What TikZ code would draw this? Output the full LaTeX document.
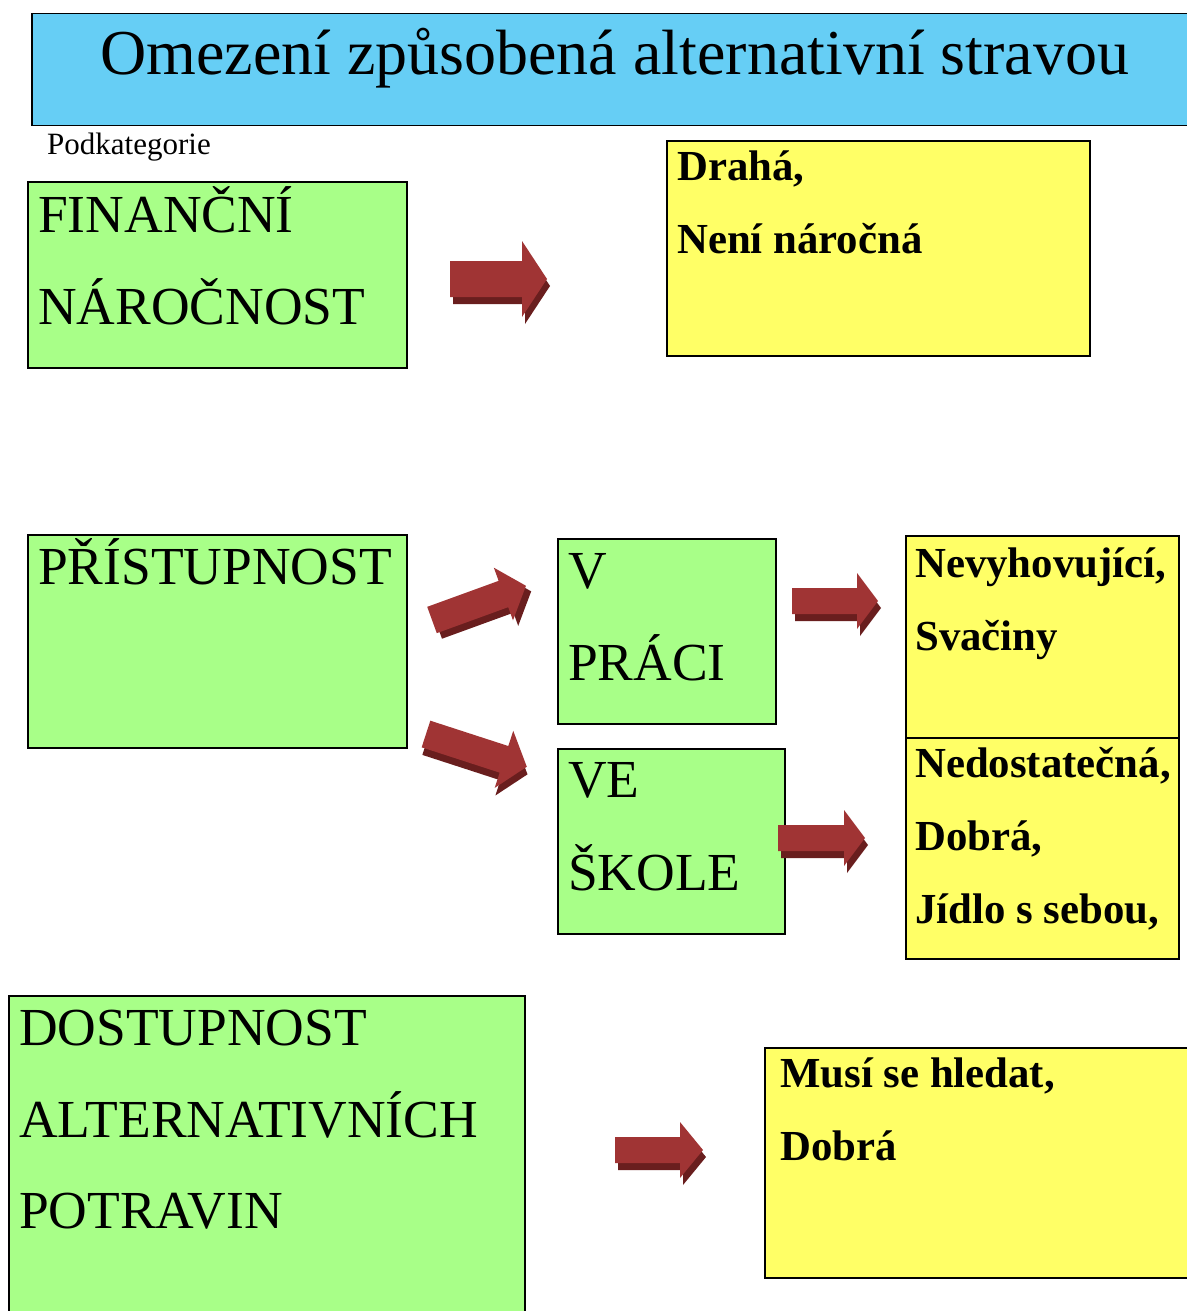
\documentclass[tikz,border=0pt]{standalone}
\usepackage{fontspec}
\setmainfont{Liberation Serif}
\definecolor{titleblue}{RGB}{102,206,245}
\definecolor{boxgreen}{RGB}{168,255,136}
\definecolor{boxyellow}{RGB}{255,255,102}
\definecolor{arrowdark}{RGB}{160,52,52}
\definecolor{arrowlight}{RGB}{205,90,90}
\definecolor{arrowshadowc}{RGB}{105,30,30}
\newcommand\blockarrow[7]{%
  \begin{scope}[shift={(#1,#2)},rotate=#3]
    \fill[arrowshadowc] (3,-#5+7) -- (#4-#7+3,-#5+7) -- (#4-#7+3,-#6+7) -- (#4+3,7) -- (#4-#7+3,#6+7) -- (#4-#7+3,#5+7) -- (3,#5+7) -- cycle;
    \shade[left color=arrowdark,middle color=arrowlight,right color=arrowdark]
      (0,-#5) -- (#4-#7,-#5) -- (#4-#7,-#6) -- (#4,0) -- (#4-#7,#6) -- (#4-#7,#5) -- (0,#5) -- cycle;
  \end{scope}}
\begin{document}
\begin{tikzpicture}[x=1pt,y=-1pt,
  frame/.style={draw=black,line width=1.5pt,inner sep=0pt,anchor=north west},
  gbox/.style={frame,fill=boxgreen},
  ybox/.style={frame,fill=boxyellow},
  gtext/.style={anchor=base west,inner sep=0pt,font=\fontsize{53.5}{60}\selectfont},
  ytext/.style={anchor=base west,inner sep=0pt,font=\fontsize{42.8}{50}\selectfont\bfseries},
]
\useasboundingbox (0,0) rectangle (1186,1311);
\fill[white] (0,0) rectangle (1186,1311);

% title
\node[frame,fill=titleblue,minimum width=1180pt,minimum height=112pt] (title) at (31,13) {};
\node[anchor=base west,inner sep=0pt,font=\fontsize{64}{70}\selectfont] (titletext) at (100,75) {Omezení způsobená alternativní stravou};
\node[anchor=base west,inner sep=0pt,font=\fontsize{31}{36}\selectfont] (podk) at (47,154) {Podkategorie};

% row 1
\node[gbox,minimum width=379pt,minimum height=186pt] (fin) at (27,181) {};
\node[gtext] (fin1) at (38,232) {FINANČNÍ};
\node[gtext] (fin2) at (38,324) {NÁROČNOST};
\node[ybox,minimum width=423pt,minimum height=215pt] (y1) at (666,140) {};
\node[ytext] (y1a) at (677,180) {Drahá,};
\node[ytext] (y1b) at (677,253) {Není náročná};
\blockarrow{450}{279}{0}{97}{18}{38}{25}

% row 2
\node[gbox,minimum width=379pt,minimum height=213pt] (pri) at (27,534) {};
\node[gtext] (pri1) at (38,584) {PŘÍSTUPNOST};
\node[gbox,minimum width=218pt,minimum height=185pt] (prace) at (557,538) {};
\node[gtext] (prace1) at (568,588) {V};
\node[gtext] (prace2) at (568,680) {PRÁCI};
\node[gbox,minimum width=227pt,minimum height=185pt] (skola) at (557,748) {};
\node[gtext] (skola1) at (568,797) {VE};
\node[gtext] (skola2) at (568,890) {ŠKOLE};
\node[ybox,minimum width=273pt,minimum height=202pt] (y2) at (905,535) {};
\node[ytext] (y2a) at (915,577) {Nevyhovující,};
\node[ytext] (y2b) at (915,650) {Svačiny};
\node[ybox,minimum width=273pt,minimum height=221pt] (y3) at (905,737) {};
\node[ytext] (y3a) at (915,777) {Nedostatečná,};
\node[ytext] (y3b) at (915,850) {Dobrá,};
\node[ytext] (y3c) at (915,923) {Jídlo s sebou,};
\blockarrow{432}{620}{20}{100}{14}{28}{24}
\blockarrow{426}{734}{-18}{106}{14}{30}{24}
\blockarrow{792}{601}{0}{86}{13}{28}{21}
\blockarrow{778}{838}{0}{87}{13}{28}{21}

% row 3
\node[gbox,minimum width=516pt,minimum height=340pt] (dos) at (8,995) {};
\node[gtext] (dos1) at (19,1045) {DOSTUPNOST};
\node[gtext] (dos2) at (19,1137) {ALTERNATIVNÍCH};
\node[gtext] (dos3) at (19,1228) {POTRAVIN};
\node[ybox,minimum width=440pt,minimum height=230pt] (y4) at (764,1047) {};
\node[ytext] (y4a) at (780,1087) {Musí se hledat,};
\node[ytext] (y4b) at (780,1160) {Dobrá};
\blockarrow{615}{1150}{0}{88}{13}{28}{23}
\end{tikzpicture}
\end{document}
